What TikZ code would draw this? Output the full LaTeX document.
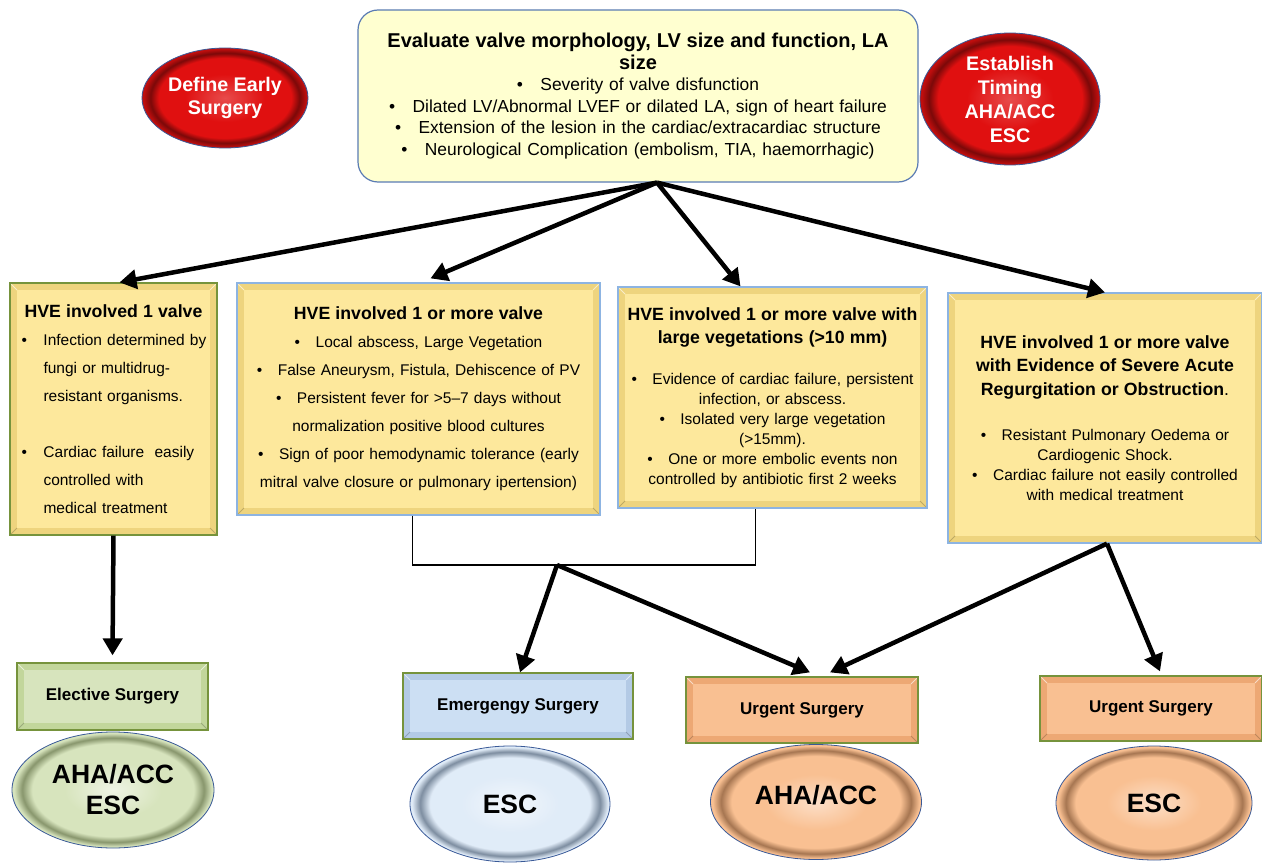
\documentclass[tikz,border=0pt]{standalone}
\usepackage{fontspec}
\setmainfont{Liberation Sans}
\usetikzlibrary{shapes.geometric,arrows.meta}
\definecolor{cream}{HTML}{FFFFD0}
\definecolor{creamedge}{HTML}{5A7BB3}
\definecolor{gold}{HTML}{FDE89C}
\definecolor{goldrim}{HTML}{EED47E}
\definecolor{leafedge}{HTML}{76933C}
\definecolor{skyedge}{HTML}{8DB4E2}
\definecolor{leaf}{HTML}{D7E4BD}
\definecolor{leafrim}{HTML}{C2D69B}
\definecolor{sky}{HTML}{CCDFF3}
\definecolor{skyrim}{HTML}{B3CAE5}
\definecolor{peach}{HTML}{F9C092}
\definecolor{peachrim}{HTML}{EDA874}
\definecolor{ruby}{HTML}{E01010}
\definecolor{rim}{HTML}{3A5A98}
\pgfdeclareradialshading{rubyglow}{\pgfpointorigin}{color(0bp)=(ruby!75!white); color(12bp)=(ruby); color(20bp)=(ruby); color(22.5bp)=(ruby!55!black); color(24.5bp)=(ruby!85!black); color(50bp)=(ruby!85!black)}
\pgfdeclareradialshading{leafglow}{\pgfpointorigin}{color(0bp)=(leaf!40!white); color(12bp)=(leaf); color(20bp)=(leaf); color(22.5bp)=(leafrim!70!black); color(24.5bp)=(leaf); color(50bp)=(leaf)}
\pgfdeclareradialshading{skyglow}{\pgfpointorigin}{color(0bp)=(sky!25!white); color(12bp)=(sky!60!white); color(20bp)=(sky!60!white); color(22.5bp)=(skyrim!70!black); color(24.5bp)=(sky!60!white); color(50bp)=(sky!60!white)}
\pgfdeclareradialshading{peachglow}{\pgfpointorigin}{color(0bp)=(peach!50!white); color(12bp)=(peach); color(20bp)=(peach); color(22.5bp)=(peachrim!70!black); color(24.5bp)=(peach); color(50bp)=(peach)}
\newcommand{\hb}[1]{\makebox[188pt][l]{\makebox[24pt][l]{\hspace{2pt}\textbullet}#1}}
\newcommand{\hc}[1]{\makebox[188pt][l]{\hspace{24pt}#1}}
\begin{document}
\begin{tikzpicture}[x=1pt,y=-1pt,
   bevel/.style={path picture={
      \fill[#1] ([shift={(7pt,-7pt)}]path picture bounding box.north west) rectangle ([shift={(-7pt,7pt)}]path picture bounding box.south east);
      \draw[white,opacity=.6,line width=.8pt] (path picture bounding box.north west) -- ++(7pt,-7pt) (path picture bounding box.north east) -- ++(-7pt,-7pt);
      \draw[black,opacity=.2,line width=.8pt] (path picture bounding box.south west) -- ++(7pt,7pt) (path picture bounding box.south east) -- ++(-7pt,7pt);}},
   box/.style={rectangle,draw=#1,line width=1.2pt,align=center,inner sep=0pt},
   card/.style={fill=goldrim,bevel=gold,font=\fontsize{15.5}{20}\selectfont},
   tag/.style={box=leafedge,font=\bfseries\fontsize{17}{20}\selectfont},
   oval/.style={ellipse,draw=rim,line width=.8pt,inner sep=0pt,align=center,font=\bfseries\fontsize{26.5}{31}\selectfont},
   flow/.style={line width=4.5pt,-{Triangle[length=17pt,width=19pt]}},
   link/.style={line width=1.5pt}]
\fill[white] (0,0) rectangle (1262,864);
\useasboundingbox (0,0) rectangle (1262,864);
\node[box=creamedge,rounded corners=20pt,fill=cream,minimum width=560pt,minimum height=172pt,
      text width=540pt,font=\fontsize{17.4}{21.5}\selectfont] (top) at (638,96)
   {{\bfseries\fontsize{20}{21.5}\selectfont Evaluate valve morphology, LV size and function, LA\\size}\\
    \textbullet\quad Severity of valve disfunction\\
    \textbullet\quad Dilated LV/Abnormal LVEF or dilated LA, sign of heart failure\\
    \textbullet\quad Extension of the lesion in the cardiac/extracardiac structure\\
    \textbullet\quad Neurological Complication (embolism, TIA, haemorrhagic)};
\node[oval,minimum width=166pt,minimum height=100pt,shading=rubyglow,
      text=white,font=\bfseries\fontsize{19.7}{23}\selectfont] (early) at (225,98) {Define Early\\Surgery};
\node[oval,minimum width=180pt,minimum height=132pt,shading=rubyglow,
      text=white,font=\bfseries\fontsize{19.7}{24}\selectfont] (timing) at (1010,99) {Establish\\Timing\\AHA/ACC\\ESC};
\node[box=leafedge,card,minimum width=207pt,minimum height=252pt,text width=190pt,
      font=\fontsize{15.5}{28}\selectfont] (b1) at (113.5,409)
   {{\bfseries\fontsize{17.7}{28}\selectfont HVE involved 1 valve}\\
    \hb{Infection determined by}\\
    \hc{fungi or multidrug-}\\
    \hc{resistant organisms.}\\[28pt]
    \hb{Cardiac failure\ \ easily}\\
    \hc{controlled with}\\
    \hc{medical treatment}};
\node[box=skyedge,card,minimum width=363pt,minimum height=232pt,text width=350pt,
      font=\fontsize{15.5}{28}\selectfont] (b2) at (418.5,399)
   {{\bfseries\fontsize{17.7}{28}\selectfont HVE involved 1 or more valve}\\
    \textbullet\quad Local abscess, Large Vegetation\\
    \textbullet\quad False Aneurysm, Fistula, Dehiscence of PV\\
    \textbullet\quad Persistent fever for >5–7 days without\\
    normalization positive blood cultures\\
    \textbullet\quad Sign of poor hemodynamic tolerance (early\\
    mitral valve closure or pulmonary ipertension)};
\node[box=skyedge,card,minimum width=309pt,minimum height=221pt,text width=300pt] (b3) at (772.5,397.5)
   {{\bfseries\fontsize{17.7}{20}\selectfont HVE involved 1 or more valve with\\[3pt]
    large vegetations (>10 mm)}\\[21pt]
    \textbullet\quad Evidence of cardiac failure, persistent\\
    infection, or abscess.\\
    \textbullet\quad Isolated very large vegetation\\
    (>15mm).\\
    \textbullet\quad One or more embolic events non\\
    controlled by antibiotic first 2 weeks};
\node[box=skyedge,card,minimum width=314pt,minimum height=250pt,text width=300pt] (b4) at (1105,418)
   {{\bfseries\fontsize{17.7}{20}\selectfont HVE involved 1 or more valve\\[3.5pt]
    with Evidence of Severe Acute\\[3.5pt]
    Regurgitation or Obstruction}{\fontsize{17.7}{20}\selectfont .}\\[25pt]
    \textbullet\quad Resistant Pulmonary Oedema or\\
    Cardiogenic Shock.\\
    \textbullet\quad Cardiac failure not easily controlled\\
    with medical treatment};
\node[tag,fill=leafrim,bevel=leaf,minimum width=191pt,minimum height=67pt] (elec) at (112.5,696.5) {Elective Surgery};
\node[tag,fill=skyrim,bevel=sky,minimum width=230pt,minimum height=66pt] (emer) at (518,706) {Emergengy Surgery};
\node[tag,fill=peachrim,bevel=peach,minimum width=232pt,minimum height=66pt] (urg1) at (802,710) {Urgent Surgery};
\node[tag,fill=peachrim,bevel=peach,minimum width=222pt,minimum height=65pt] (urg2) at (1151,708.5) {Urgent Surgery};
\node[oval,minimum width=202pt,minimum height=116pt,shading=leafglow] (g1) at (113,790) {AHA/ACC\\ESC};
\node[oval,minimum width=200pt,minimum height=116pt,shading=skyglow] (g2) at (510,804) {ESC};
\node[oval,minimum width=211pt,minimum height=115pt,shading=peachglow,text depth=14pt] (g3) at (816,802) {AHA/ACC};
\node[oval,minimum width=196pt,minimum height=114pt,shading=peachglow] (g4) at (1154,803) {ESC};
\coordinate (fan) at ([xshift=19pt]top.south);
\draw[flow] (fan) -- ([xshift=6pt]b1.north);
\draw[flow] (fan) -- ([xshift=12pt,yshift=4pt]b2.north);
\draw[flow] (fan) -- ([xshift=-32pt]b3.north);
\draw[flow] (fan) -- (b4.north);
\draw[flow] (b1.south) -- ([yshift=7pt]elec.north);
\coordinate (j) at (557,565);
\draw[link] ([xshift=-6pt]b2.south) |- (j) -| ([xshift=-17pt]b3.south);
\draw[flow] (j) -- ([xshift=2pt]emer.north);
\draw[flow] (j) -- ([xshift=8pt,yshift=4pt]urg1.north);
\draw[flow] ([xshift=2pt]b4.south) -- ([xshift=28pt,yshift=4pt]urg1.north);
\draw[flow] ([xshift=2pt]b4.south) -- ([xshift=9pt,yshift=4pt]urg2.north);
\end{tikzpicture}
\end{document}
